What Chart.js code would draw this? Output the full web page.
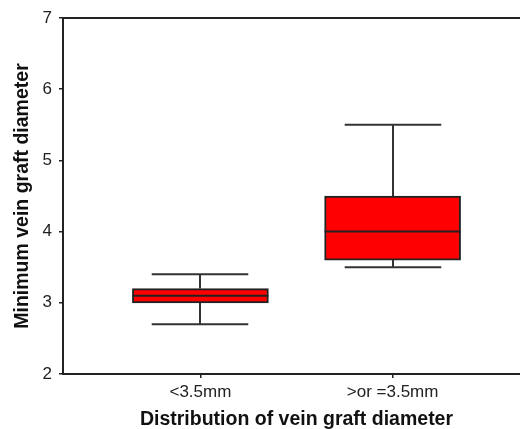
<!DOCTYPE html>
<html>
<head>
<meta charset="utf-8">
<script src="https://cdn.jsdelivr.net/npm/chart.js@4/dist/chart.umd.min.js"></script>
<style>
  html, body { margin: 0; padding: 0; background: #fff; overflow: hidden; }
  canvas { display: block; }
</style>
</head>
<body>
<canvas id="chart" width="530" height="429"></canvas>
<script>
// Groups and their box-plot summaries (minimum vein graft diameter, mm)
const categories = ['<3.5mm', '>or =3.5mm'];
const positions = [1, 2];
const whiskerLow = [2.7, 3.5];
const quartile1 = [3.0, 3.6];
const medians = [3.1, 4.0];
const quartile3 = [3.2, 4.5];
const whiskerHigh = [3.4, 5.5];
const yTicks = [2, 3, 4, 5, 6, 7];

const FONT = '"Liberation Sans", Arial, Helvetica, sans-serif';
const INK = '#222222';
const BOX_WIDTH = 136;      // px
const CAP_RATIO = 0.71;     // whisker cap length relative to box width

// Whiskers behind the boxes, medians on top of them
const boxPlotLines = {
  id: 'boxPlotLines',
  beforeDatasetsDraw(chart) {
    const { ctx, scales: { x, y } } = chart;
    ctx.save();
    ctx.strokeStyle = '#333333';
    ctx.lineWidth = 2;
    const halfCap = BOX_WIDTH * CAP_RATIO / 2;
    positions.forEach((p, i) => {
      const cx = Math.round(x.getPixelForValue(p));
      const yLo = y.getPixelForValue(whiskerLow[i]);
      const yHi = y.getPixelForValue(whiskerHigh[i]);
      const yQ1 = y.getPixelForValue(quartile1[i]);
      const yQ3 = y.getPixelForValue(quartile3[i]);
      ctx.beginPath();
      ctx.moveTo(cx, yLo); ctx.lineTo(cx, yQ1);
      ctx.moveTo(cx, yQ3); ctx.lineTo(cx, yHi);
      ctx.moveTo(cx - halfCap, yLo); ctx.lineTo(cx + halfCap, yLo);
      ctx.moveTo(cx - halfCap, yHi); ctx.lineTo(cx + halfCap, yHi);
      ctx.stroke();
    });
    ctx.restore();
  },
  afterDatasetsDraw(chart) {
    const { ctx, scales: { x, y } } = chart;
    ctx.save();
    ctx.strokeStyle = INK;
    ctx.lineWidth = 2;
    positions.forEach((p, i) => {
      const cx = x.getPixelForValue(p);
      const ym = y.getPixelForValue(medians[i]);
      ctx.beginPath();
      ctx.moveTo(cx - BOX_WIDTH / 2, ym);
      ctx.lineTo(cx + BOX_WIDTH / 2, ym);
      ctx.stroke();
    });
    ctx.restore();
  }
};

// Top frame line of the plot area
const topFrame = {
  id: 'topFrame',
  afterDraw(chart) {
    const { ctx, chartArea: a } = chart;
    ctx.save();
    ctx.strokeStyle = INK;
    ctx.lineWidth = 2;
    ctx.beginPath();
    ctx.moveTo(a.left - 1, a.top);
    ctx.lineTo(a.right, a.top);
    ctx.stroke();
    ctx.restore();
  }
};

new Chart(document.getElementById('chart'), {
  type: 'bar',
  data: {
    datasets: [{
      data: positions.map((p, i) => ({ x: p, y: [quartile1[i], quartile3[i]] })),
      backgroundColor: '#ff0000',
      borderColor: INK,
      borderWidth: 2,
      borderSkipped: false,
      barThickness: BOX_WIDTH
    }]
  },
  options: {
    responsive: false,
    animation: false,
    layout: { padding: { top: 18, right: 0, left: 0, bottom: 0 } },
    plugins: { legend: { display: false }, tooltip: { enabled: false } },
    scales: {
      x: {
        type: 'linear',
        offset: false,
        min: 0.285,
        max: 2.715,
        afterBuildTicks: (s) => { s.ticks = positions.map(v => ({ value: v })); },
        afterFit: (s) => { s.height = 55; },
        ticks: {
          callback: (v) => categories[positions.indexOf(v)],
          color: INK,
          padding: 4,
          maxRotation: 0,
          font: { family: FONT, size: 17 }
        },
        grid: { display: true, offset: false, drawOnChartArea: false, drawTicks: true, tickLength: 4, color: INK, lineWidth: 1.5 },
        border: { display: true, color: INK, width: 2 },
        title: {
          display: true,
          text: 'Distribution of vein graft diameter',
          color: '#111111',
          padding: 0,
          font: { family: FONT, size: 19.5, weight: 'bold', lineHeight: 1 }
        }
      },
      y: {
        min: 2,
        max: 7,
        afterBuildTicks: (s) => { s.ticks = yTicks.map(v => ({ value: v })); },
        afterFit: (s) => { s.width = 63; },
        ticks: {
          color: INK,
          padding: 7,
          font: { family: FONT, size: 17 }
        },
        grid: { display: true, drawOnChartArea: false, drawTicks: true, tickLength: 4, color: INK, lineWidth: 1.5 },
        border: { display: true, color: INK, width: 2 },
        title: {
          display: true,
          text: 'Minimum vein graft diameter',
          color: '#111111',
          padding: { top: 11, bottom: 0 },
          font: { family: FONT, size: 19.5, weight: 'bold', lineHeight: 1.2 }
        }
      }
    }
  },
  plugins: [boxPlotLines, topFrame]
});
</script>
</body>
</html>
